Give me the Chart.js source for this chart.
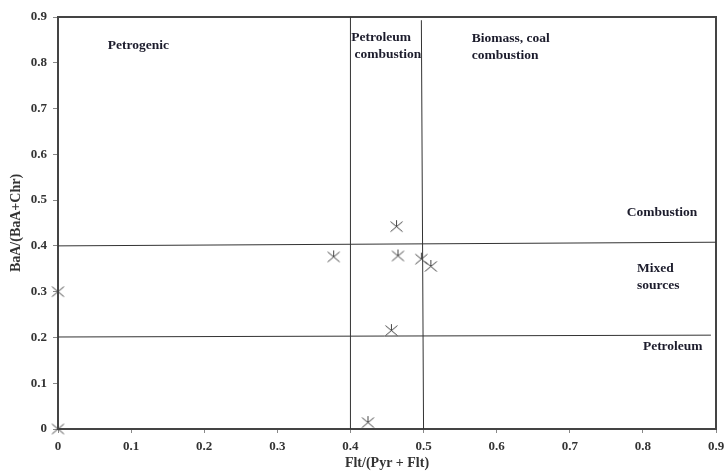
<!DOCTYPE html>
<html>
<head>
<meta charset="utf-8">
<script src="https://cdn.jsdelivr.net/npm/chart.js@4.4.1/dist/chart.umd.min.js"></script>
<style>
  html, body { margin: 0; padding: 0; background: #fff; }
  #wrap { width: 724px; height: 472px; position: relative; }
</style>
</head>
<body>
<div id="wrap"><canvas id="c"></canvas></div>
<script>
  // samples: Flt/(Pyr+Flt) vs BaA/(BaA+Chr)
  const fltRatio = [0, 0, 0.377, 0.463, 0.465, 0.497, 0.51, 0.456, 0.424];
  const baaRatio = [0.30, 0.0, 0.376, 0.442, 0.378, 0.371, 0.355, 0.215, 0.014];

  // boundary lines (source diagnostic ratios)
  const lineFlt04 = [{ x: 0.4, y: 0 }, { x: 0.4, y: 0.9 }];
  const lineFlt05 = [{ x: 0.5, y: 0 }, { x: 0.497, y: 0.893 }];
  const lineBaa04 = [{ x: 0, y: 0.4 }, { x: 0.9, y: 0.408 }];
  const lineBaa02 = [{ x: 0, y: 0.201 }, { x: 0.893, y: 0.205 }];

  const xTicks = [0, 0.1, 0.2, 0.3, 0.4, 0.5, 0.6, 0.7, 0.8, 0.9];
  const yTicks = [0, 0.1, 0.2, 0.3, 0.4, 0.5, 0.6, 0.7, 0.8, 0.9];

  // region captions, anchored in data units
  const regionLabels = [
    { lines: ["Petrogenic"], x: 0.068, y: 0.838 },
    { lines: ["Petroleum", " combustion"], x: 0.401, y: 0.855 },
    { lines: ["Biomass, coal", "combustion"], x: 0.566, y: 0.852 },
    { lines: ["Combustion"], x: 0.778, y: 0.473 },
    { lines: ["Mixed", "sources"], x: 0.792, y: 0.35 },
    { lines: ["Petroleum"], x: 0.8, y: 0.18 },
  ];

  const FONT = "'Liberation Serif', 'DejaVu Serif', serif";

  function asteriskImage() {
    var s = 15, c = document.createElement("canvas");
    c.width = s; c.height = s;
    var g = c.getContext("2d");
    g.strokeStyle = "#444";
    g.lineWidth = 1;
    g.beginPath();
    g.moveTo(1.5, 2.5); g.lineTo(13.5, 12.5);
    g.moveTo(13.5, 2.5); g.lineTo(1.5, 12.5);
    g.moveTo(7.5, 1); g.lineTo(7.5, 8);
    g.stroke();
    return c;
  }

  const frame = {
    id: "frame",
    beforeDatasetsDraw: function (chart) {
      var a = chart.chartArea, ctx = chart.ctx;
      ctx.save();
      ctx.strokeStyle = "#444";
      ctx.lineWidth = 2;
      ctx.strokeRect(a.left, a.top, a.right - a.left, a.bottom - a.top);
      ctx.fillStyle = "#1c1c2c";
      ctx.font = "bold 13.5px " + FONT;
      ctx.textBaseline = "middle";
      var xs = chart.scales.x, ys = chart.scales.y;
      regionLabels.forEach(function (l) {
        var px = xs.getPixelForValue(l.x), py = ys.getPixelForValue(l.y);
        l.lines.forEach(function (t, i) { ctx.fillText(t, px, py + i * 17); });
      });
      ctx.restore();
    }
  };

  function lineSet(pts, w) {
    return {
      type: "line", data: pts, borderColor: "#333", borderWidth: w || 1,
      pointRadius: 0, fill: false, showLine: true, order: 2
    };
  }

  new Chart(document.getElementById("c"), {
    type: "scatter",
    data: {
      datasets: [
        {
          label: "Samples",
          data: fltRatio.map(function (v, i) { return { x: v, y: baaRatio[i] }; }),
          pointStyle: asteriskImage(),
          pointRadius: 7,
          clip: false,
          order: 1
        },
        lineSet(lineFlt04),
        lineSet(lineFlt05),
        lineSet(lineBaa04),
        lineSet(lineBaa02)
      ]
    },
    options: {
      responsive: true,
      maintainAspectRatio: false,
      animation: false,
      layout: { padding: { top: 17, right: 0, left: 8, bottom: 0 } },
      plugins: { legend: { display: false }, tooltip: { enabled: false } },
      scales: {
        x: {
          type: "linear", min: 0, max: 0.9,
          afterBuildTicks: function (s) { s.ticks = xTicks.map(function (v) { return { value: v }; }); },
          afterFit: function (s) { s.height = 43; s.paddingRight = 8; s.paddingLeft = 0; },
          grid: { drawOnChartArea: false, tickLength: 4, color: "#888" },
          border: { display: false },
          ticks: {
            color: "#333", padding: 6,
            font: { family: FONT, size: 13, weight: "bold" },
            callback: function (v) { return String(Math.round(v * 10) / 10); }
          },
          title: {
            display: true, text: "Flt/(Pyr + Flt)", color: "#333", padding: { top: -3, bottom: 0 },
            font: { family: FONT, size: 14, weight: "bold" }
          }
        },
        y: {
          type: "linear", min: 0, max: 0.9,
          afterBuildTicks: function (s) { s.ticks = yTicks.map(function (v) { return { value: v }; }); },
          afterFit: function (s) { s.width = 50; },
          grid: { drawOnChartArea: false, tickLength: 5, color: "#888" },
          border: { display: false },
          ticks: {
            color: "#333", padding: 6,
            font: { family: FONT, size: 13, weight: "bold" },
            callback: function (v) { return String(Math.round(v * 10) / 10); }
          },
          title: {
            display: true, text: "BaA/(BaA+Chr)", color: "#333", padding: 0,
            font: { family: FONT, size: 14, weight: "bold" }
          }
        }
      }
    },
    plugins: [frame]
  });
</script>
</body>
</html>
